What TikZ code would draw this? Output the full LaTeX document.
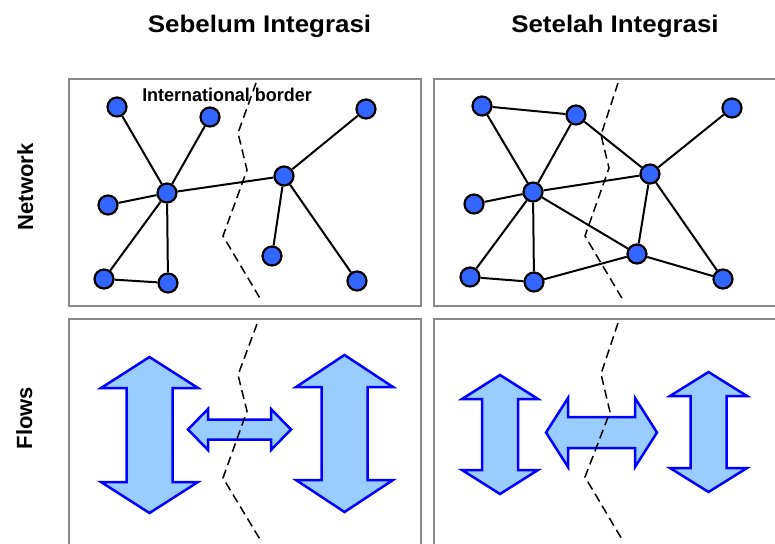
\documentclass[tikz,border=0pt]{standalone}
\usepackage{fontspec}
\setmainfont{Liberation Sans}
\newfontfamily\titlefont[FakeStretch=1.08]{Liberation Sans}
\newfontfamily\labelfont[FakeStretch=0.97]{Liberation Sans}

\definecolor{nodeblue}{RGB}{51,102,255}
\definecolor{panelgray}{RGB}{136,136,136}
\definecolor{flowfill}{RGB}{153,204,255}
\definecolor{flowline}{RGB}{0,0,255}

\tikzset{
  panel/.style={draw=panelgray, line width=2pt},
  netnode/.style={circle, draw=black, line width=2.2pt, fill=nodeblue,
    minimum size=19pt, inner sep=0pt},
  link/.style={line width=2pt, black},
  borderline/.style={line width=1.5pt, dash pattern=on 9pt off 5pt},
  flowarrow/.style={draw=flowline, fill=flowfill, line width=2.5pt, line join=miter},
  coltitle/.style={font=\titlefont\bfseries\fontsize{24}{28}\selectfont, anchor=base},
  rowtitle/.style={font=\bfseries\fontsize{22}{26}\selectfont, anchor=base, rotate=90},
  % vertical double arrow: half length, head length, head half width, shaft half width
  pics/dblarrow/.style n args={4}{code={
    \draw[flowarrow] (0,-#1) -- (#3,-#1+#2) -- (#4,-#1+#2) -- (#4,#1-#2)
      -- (#3,#1-#2) -- (0,#1) -- (-#3,#1-#2) -- (-#4,#1-#2)
      -- (-#4,-#1+#2) -- (-#3,-#1+#2) -- cycle;
  }},
}

\begin{document}
\begin{tikzpicture}[x=1pt, y=-1pt]
\useasboundingbox (0,0) rectangle (775,543);
\begin{scope}
\clip (0,0) rectangle (775,543);

% column and row headings
\node[coltitle] (tbefore) at (259.5,33) {Sebelum Integrasi};
\node[coltitle] (tafter) at (615,33) {Setelah Integrasi};
\node[rowtitle] (rnet) at (33,187) {Network};
\node[rowtitle] (rflow) at (32,418) {Flows};

% panels
\draw[panel] (69,79) rectangle (421,306);
\draw[panel] (434,79) rectangle (790,306);
\draw[panel] (69,319) rectangle (421,560);
\draw[panel] (434,319) rectangle (790,560);

% borders in the network panels
\draw[borderline] (256,83) -- (238,133) -- (247,170) -- (223,236) -- (261,300);
\draw[borderline] (618,83) -- (601,135) -- (609,168) -- (585,236) -- (623,300);

\node[font=\labelfont\bfseries\fontsize{18.5}{21}\selectfont, anchor=base]
  (intl) at (227,101) {International border};

% network before integration
\node[netnode] (A) at (117,107) {};
\node[netnode] (B) at (210,117) {};
\node[netnode] (C) at (167,193) {};
\node[netnode] (D) at (108,205) {};
\node[netnode] (E) at (104,279) {};
\node[netnode] (F) at (168,283) {};
\node[netnode] (G) at (284,176) {};
\node[netnode] (H) at (366,109) {};
\node[netnode] (I) at (272,256) {};
\node[netnode] (J) at (357,281) {};
\draw[link] (A) -- (C);
\draw[link] (B) -- (C);
\draw[link] (D) -- (C);
\draw[link] (E) -- (C);
\draw[link] (F) -- (C);
\draw[link] (E) -- (F);
\draw[link] (C) -- (G);
\draw[link] (G) -- (H);
\draw[link] (G) -- (I);
\draw[link] (G) -- (J);

% network after integration
\node[netnode] (a) at (482,106) {};
\node[netnode] (b) at (576,115) {};
\node[netnode] (c) at (533,192) {};
\node[netnode] (d) at (474,204) {};
\node[netnode] (e) at (470,277) {};
\node[netnode] (f) at (534,282) {};
\node[netnode] (g) at (650,174) {};
\node[netnode] (h) at (732,108) {};
\node[netnode] (i) at (637,254) {};
\node[netnode] (j) at (723,279) {};
\draw[link] (a) -- (b);
\draw[link] (a) -- (c);
\draw[link] (b) -- (c);
\draw[link] (b) -- (g);
\draw[link] (c) -- (d);
\draw[link] (c) -- (e);
\draw[link] (c) -- (f);
\draw[link] (e) -- (f);
\draw[link] (c) -- (g);
\draw[link] (c) -- (i);
\draw[link] (g) -- (h);
\draw[link] (g) -- (i);
\draw[link] (g) -- (j);
\draw[link] (f) -- (i);
\draw[link] (i) -- (j);

% flows before integration
\pic at (149.5,435) {dblarrow={78}{31}{48.5}{23}};
\pic at (344.5,433.5) {dblarrow={78.5}{32}{48.5}{23}};
\pic[rotate=90] at (239.5,429.5) {dblarrow={51.5}{20}{20.5}{10}};

% flows after integration
\pic at (500,434.5) {dblarrow={59.5}{24}{38}{18}};
\pic at (708.5,432) {dblarrow={60}{24}{38.5}{18}};
\pic[rotate=90] at (601.5,432.5) {dblarrow={55.5}{22}{34.5}{15.5}};

% borders in the flow panels
\draw[borderline] (257,324) -- (238,375) -- (247,411) -- (223,478) -- (261,541);
\draw[borderline] (618,323) -- (601,374) -- (610,412) -- (585,477) -- (623,541);
\end{scope}
\end{tikzpicture}
\end{document}
